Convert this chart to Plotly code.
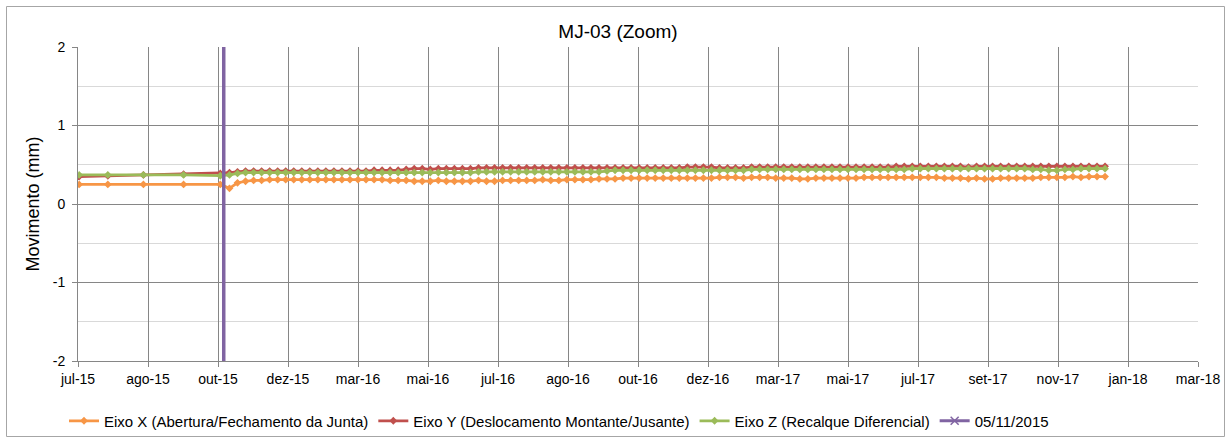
import pandas as pd
import plotly.graph_objects as go

# ---------------- data ----------------
early_dates = ["2015-07-02", "2015-07-27", "2015-08-27", "2015-10-01", "2015-11-02"]
weekly_dates = [d.strftime("%Y-%m-%d") for d in pd.date_range("2015-11-10", periods=110, freq="7D")]
dates = early_dates + weekly_dates

eixo_x = [0.25, 0.25, 0.25, 0.25, 0.25,
          0.20, 0.27, 0.29, 0.30, 0.30, 0.31, 0.31, 0.31, 0.31, 0.31,
          0.31, 0.31, 0.31, 0.31, 0.31, 0.31, 0.31, 0.31, 0.31, 0.31,
          0.30, 0.30, 0.30, 0.29, 0.29, 0.29, 0.30, 0.29, 0.29, 0.29,
          0.29, 0.30, 0.29, 0.29, 0.30, 0.30, 0.30, 0.30, 0.30, 0.31,
          0.30, 0.30, 0.31, 0.31, 0.31, 0.31, 0.32, 0.32, 0.32, 0.33,
          0.33, 0.33, 0.33, 0.33, 0.33, 0.33, 0.33, 0.33, 0.33, 0.33,
          0.33, 0.34, 0.34, 0.34, 0.33, 0.34, 0.34, 0.34, 0.33, 0.33,
          0.33, 0.32, 0.32, 0.33, 0.33, 0.33, 0.33, 0.33, 0.33, 0.34,
          0.34, 0.34, 0.34, 0.34, 0.34, 0.34, 0.34, 0.34, 0.34, 0.33,
          0.33, 0.33, 0.32, 0.33, 0.32, 0.32, 0.33, 0.33, 0.33, 0.33,
          0.33, 0.34, 0.34, 0.34, 0.34, 0.35, 0.34, 0.35, 0.35, 0.35]

eixo_y = [0.35, 0.36, 0.37, 0.38, 0.39,
          0.40, 0.41, 0.42, 0.42, 0.42, 0.42, 0.42, 0.42, 0.42, 0.42,
          0.42, 0.42, 0.42, 0.42, 0.42, 0.42, 0.42, 0.42, 0.43, 0.43,
          0.43, 0.43, 0.44, 0.45, 0.45, 0.44, 0.45, 0.45, 0.45, 0.45,
          0.45, 0.46, 0.46, 0.46, 0.46, 0.46, 0.46, 0.46, 0.46, 0.46,
          0.46, 0.46, 0.46, 0.46, 0.46, 0.46, 0.46, 0.46, 0.46, 0.46,
          0.46, 0.46, 0.46, 0.46, 0.46, 0.46, 0.46, 0.47, 0.47, 0.47,
          0.47, 0.46, 0.46, 0.46, 0.46, 0.47, 0.47, 0.47, 0.47, 0.47,
          0.47, 0.47, 0.47, 0.47, 0.47, 0.47, 0.47, 0.47, 0.47, 0.47,
          0.47, 0.47, 0.47, 0.48, 0.48, 0.48, 0.48, 0.48, 0.48, 0.48,
          0.48, 0.48, 0.47, 0.48, 0.48, 0.48, 0.48, 0.48, 0.48, 0.48,
          0.48, 0.48, 0.48, 0.48, 0.48, 0.48, 0.48, 0.48, 0.48, 0.48]

eixo_z = [0.37, 0.37, 0.37, 0.37, 0.36,
          0.37, 0.39, 0.40, 0.40, 0.40, 0.40, 0.40, 0.40, 0.40, 0.40,
          0.40, 0.40, 0.40, 0.40, 0.40, 0.40, 0.40, 0.40, 0.40, 0.40,
          0.40, 0.40, 0.40, 0.40, 0.40, 0.40, 0.40, 0.40, 0.40, 0.40,
          0.40, 0.41, 0.41, 0.41, 0.41, 0.41, 0.41, 0.41, 0.41, 0.41,
          0.41, 0.41, 0.41, 0.41, 0.41, 0.41, 0.41, 0.42, 0.43, 0.43,
          0.43, 0.43, 0.43, 0.43, 0.43, 0.43, 0.43, 0.43, 0.43, 0.43,
          0.43, 0.43, 0.43, 0.43, 0.43, 0.44, 0.44, 0.44, 0.44, 0.44,
          0.44, 0.44, 0.44, 0.44, 0.44, 0.44, 0.44, 0.44, 0.44, 0.44,
          0.44, 0.44, 0.44, 0.44, 0.44, 0.45, 0.45, 0.45, 0.45, 0.45,
          0.45, 0.45, 0.45, 0.45, 0.45, 0.45, 0.45, 0.45, 0.45, 0.45,
          0.44, 0.44, 0.43, 0.43, 0.44, 0.44, 0.45, 0.45, 0.45, 0.45]

event_date = "2015-11-05"
event_label = "05/11/2015"
event_y = [-2, 2]

series_names = ["Eixo X (Abertura/Fechamento da Junta)",
                "Eixo Y (Deslocamento Montante/Jusante)",
                "Eixo Z (Recalque Diferencial)"]

meses = ["jan", "fev", "mar", "abr", "mai", "jun", "jul", "ago", "set", "out", "nov", "dez"]
tick_dates = pd.date_range("2015-07-01", periods=17, freq="61D")
tick_vals = [d.strftime("%Y-%m-%d") for d in tick_dates]
tick_text = [f"{meses[d.month - 1]}-{d.year % 100:02d}" for d in tick_dates]

y_tick_vals = [-2, -1, 0, 1, 2]
y_tick_text = ["-2", "-1", "0", "1", "2"]

# ---------------- figure ----------------
FONT = "Liberation Sans, Arial, sans-serif"
colors = ["#F79646", "#C0504D", "#9BBB59"]
W, H = 1231, 443
L, R, T, B = 78, 33, 47, 82
pw, ph = W - L - R, H - T - B

def px(x):
    return (x - L) / pw

def py(y):
    return (H - B - y) / ph

fig = go.Figure()
for name, vals, col in zip(series_names, [eixo_x, eixo_y, eixo_z], colors):
    fig.add_trace(go.Scatter(
        x=dates, y=vals, name=name, mode="lines+markers",
        line=dict(color=col, width=2.75),
        marker=dict(symbol="diamond", size=6, color=col),
    ))

fig.add_trace(go.Scatter(
    x=[event_date, event_date], y=event_y, mode="lines",
    line=dict(color="#8064A2", width=3.5), showlegend=False,
    legendgroup="ev", name=event_label,
))
fig.add_trace(go.Scatter(
    x=[None], y=[None], mode="lines+markers", name=event_label, legendgroup="ev",
    line=dict(color="#8064A2", width=3),
    marker=dict(symbol="x-thin", size=8, color="#8064A2", line=dict(color="#8064A2", width=1.5)),
))

# outer chart border
fig.add_shape(type="rect", xref="paper", yref="paper",
              x0=px(6.5), x1=px(1224.5), y0=py(436.5), y1=py(6.5),
              line=dict(color="#A6A6A6", width=1), fillcolor="rgba(0,0,0,0)", layer="below")

fig.update_layout(
    width=W, height=H,
    margin=dict(l=L, r=R, t=T, b=B, autoexpand=False),
    paper_bgcolor="white", plot_bgcolor="white",
    font=dict(family=FONT, size=14, color="#000000"),
    title=dict(text="MJ-03 (Zoom)", x=px(618), xref="paper", xanchor="center",
               y=1 - 31 / H, yref="container", yanchor="middle",
               font=dict(family=FONT, size=19, color="#000000")),
    showlegend=True,
    legend=dict(orientation="h", x=px(559), xanchor="center", y=py(421), yanchor="middle",
                font=dict(family=FONT, size=15, color="#000000"),
                bgcolor="rgba(0,0,0,0)", tracegroupgap=0, itemwidth=30),
    xaxis=dict(
        type="date", range=[tick_vals[0], tick_vals[-1]],
        tickmode="array", tickvals=tick_vals, ticktext=tick_text,
        showgrid=True, gridcolor="#868686", gridwidth=1,
        showline=True, linecolor="#868686", linewidth=1,
        ticks="outside", ticklen=5, tickcolor="#868686",
        tickfont=dict(family=FONT, size=14, color="#000000"),
        zeroline=False,
    ),
    yaxis=dict(
        range=[-2, 2],
        tickmode="array", tickvals=y_tick_vals, ticktext=y_tick_text,
        showgrid=True, gridcolor="#868686", gridwidth=1,
        minor=dict(tickmode="linear", tick0=0, dtick=0.5, showgrid=True,
                   gridcolor="#D9D9D9", gridwidth=1),
        showline=True, linecolor="#868686", linewidth=1,
        ticks="outside", ticklen=5, tickcolor="#868686",
        tickfont=dict(family=FONT, size=14, color="#000000"),
        ticklabelstandoff=4,
        zeroline=False,
        title=dict(text="Movimento (mm)", font=dict(family=FONT, size=18, color="#000000"), standoff=8),
    ),
)

fig.write_html("out.html", config={"displayModeBar": False},
               post_script="document.body.style.margin='0';")
